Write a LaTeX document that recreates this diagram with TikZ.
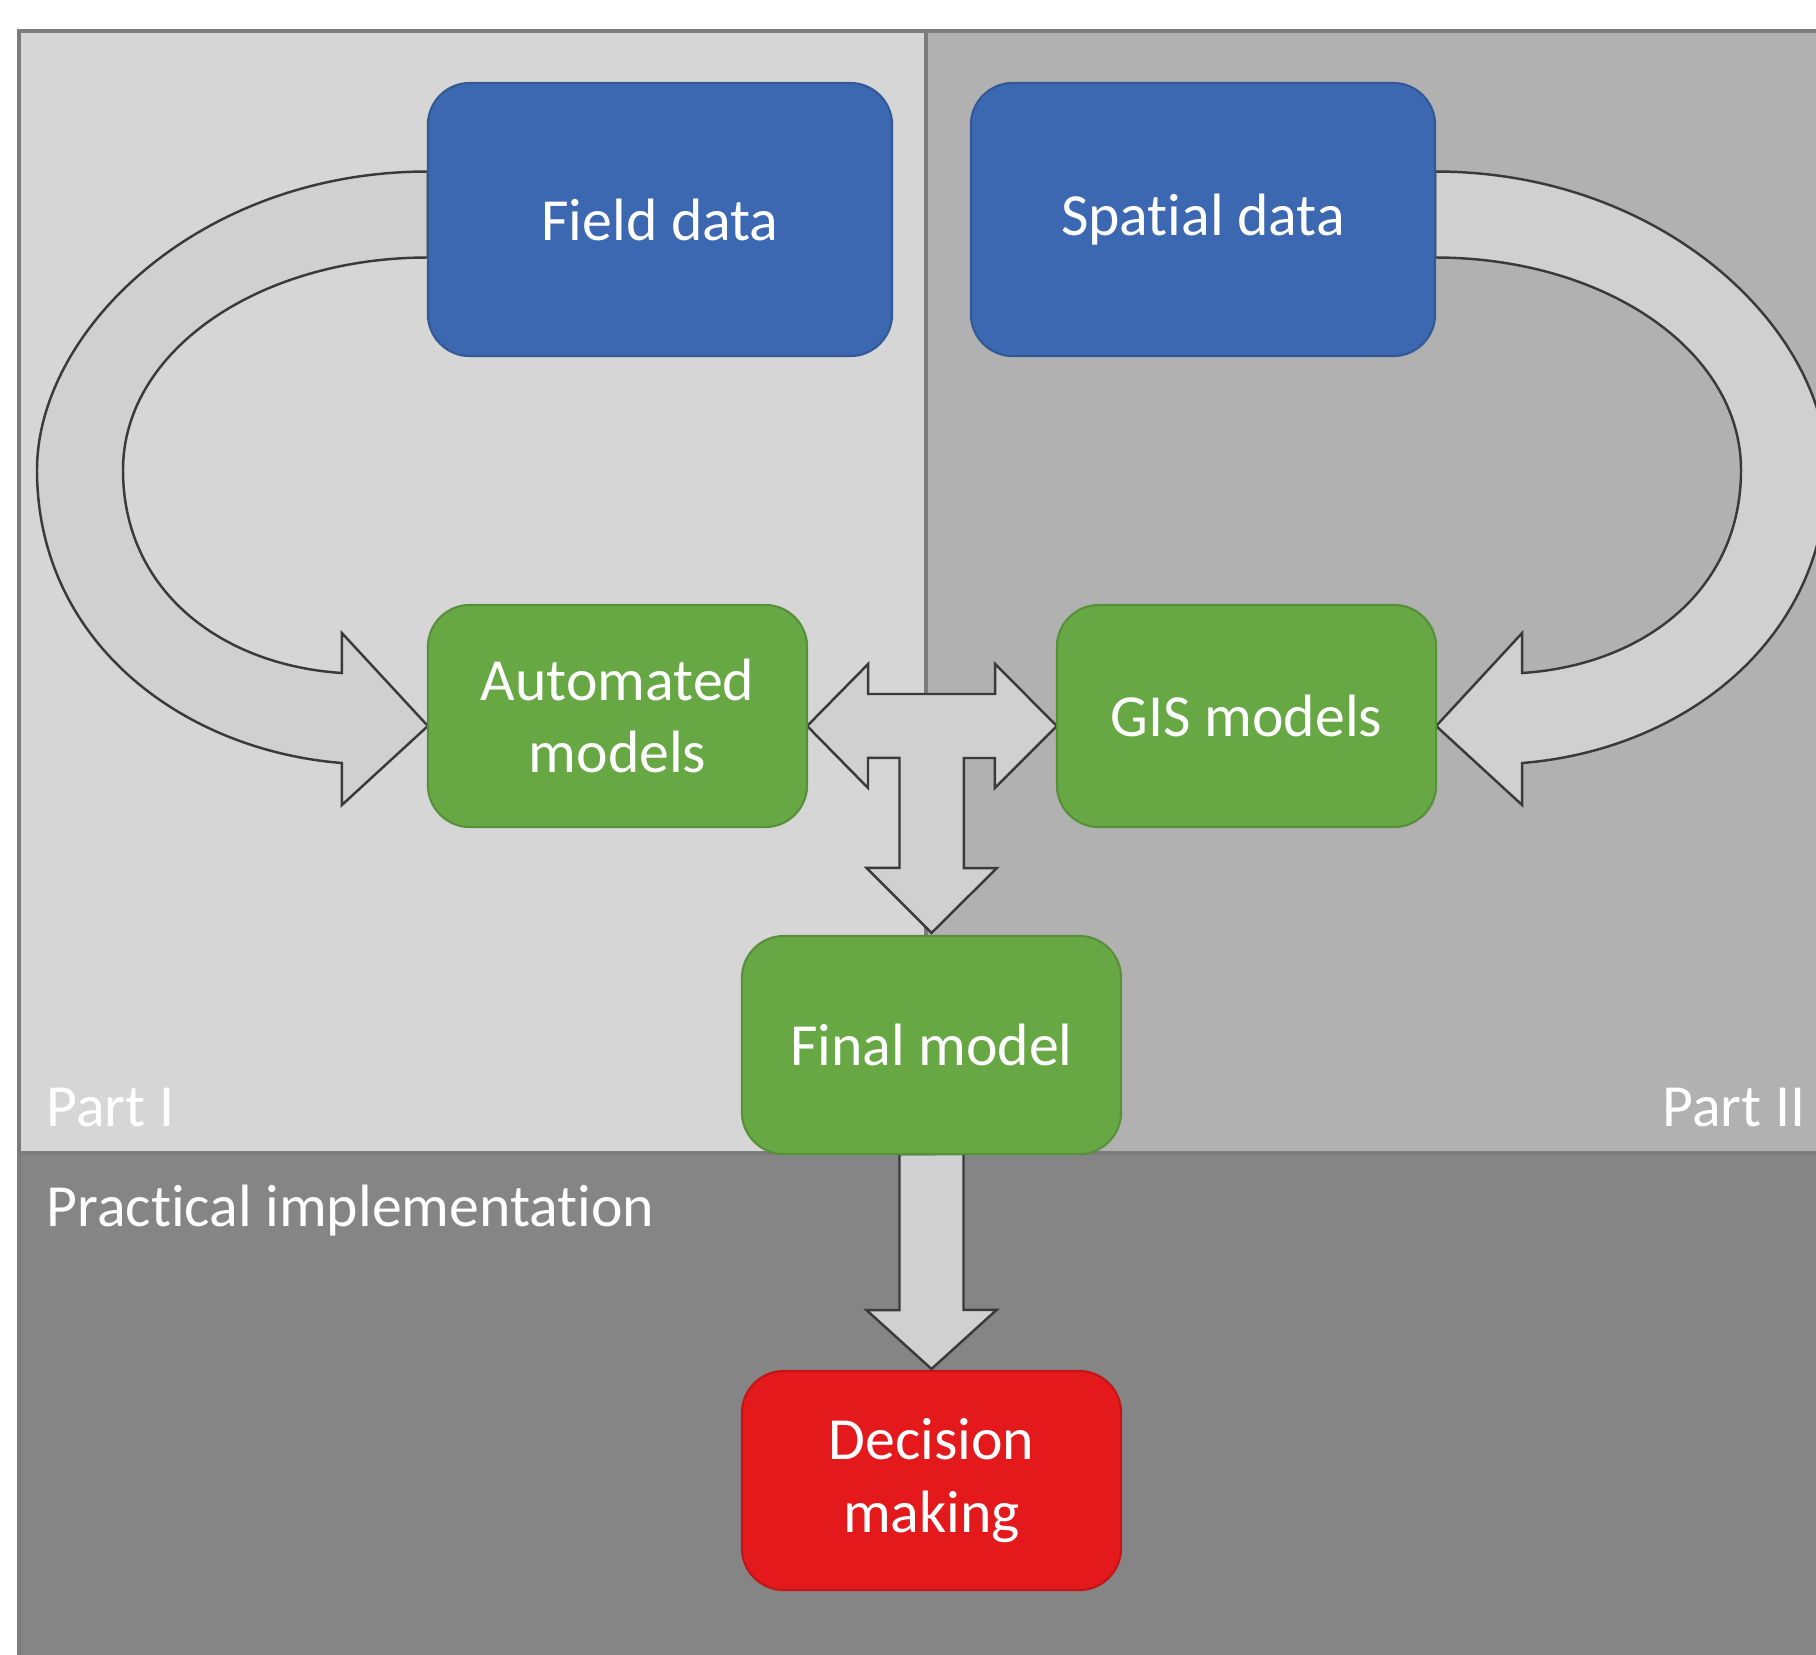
\documentclass[tikz,border=0pt]{standalone}
\usepackage{fontspec}
\setmainfont{Carlito}[Ligatures={NoCommon}]
\usepackage{tikz}
\usetikzlibrary{calc,backgrounds}

\definecolor{panelI}{HTML}{D6D6D6}
\definecolor{panelII}{HTML}{B1B1B1}
\definecolor{panelPI}{HTML}{858585}
\definecolor{framegray}{HTML}{7C7C7C}
\definecolor{databox}{HTML}{3C67B1}
\definecolor{modelbox}{HTML}{67A845}
\definecolor{decbox}{HTML}{E3191C}
\definecolor{arrowfill}{HTML}{D0D0D0}
\definecolor{arrowline}{HTML}{3A3A3A}

\tikzset{
  box/.style={rounded corners=0.42cm, outer sep=0pt, inner sep=0pt, align=center,
    text=white, font=\fontsize{17}{20.5}\selectfont, line width=0.6pt},
  datanode/.style={box, fill=databox, draw=databox!85!black, minimum width=4.64cm, minimum height=2.73cm},
  modelnode/.style={box, fill=modelbox, draw=modelbox!85!black, minimum width=3.79cm, minimum height=2.22cm},
  decnode/.style={box, fill=decbox, draw=decbox!85!black, minimum width=3.79cm, minimum height=2.19cm},
  blockarrow/.style={fill=arrowfill, draw=arrowline, line width=0.7pt, line join=miter},
  partlabel/.style={text=white, font=\fontsize{17}{20.5}\selectfont, inner sep=0pt},
}

\begin{document}
\begin{tikzpicture}[x=0.01cm, y=-0.01cm]
  \useasboundingbox (0,0) rectangle (1816,1654);

  \node[datanode] (field) at (660,219.5) {Field data};
  \node[datanode] (spatial) at (1203,219.5) {Spatial data};
  \node[modelnode] (auto) at (617.5,716) {Automated\\models};
  \node[modelnode] (gis) at (1246.5,716) {GIS models};
  \node[modelnode, minimum height=2.18cm] (final) at (931.5,1045) {Final model};
  \node[decnode] (decision) at (931.5,1480.5) {Decision\\making};

  \node[partlabel, anchor=base west] (partI) at (46,1126) {Part I};
  \node[partlabel, anchor=base east] (partII) at (1806,1126) {Part II};
  \node[partlabel, anchor=base west] (practical) at (46,1226) {Practical implementation};

  \coordinate (tl) at ($(auto.east)+(0,10)$);
  \coordinate (tr) at ($(gis.west)+(0,10)$);
  \coordinate (td) at ($(final.north)+(0,-3)$);

  \begin{scope}[on background layer]
    \clip (0,0) rectangle (1816,1654);
    \fill[white] (0,0) rectangle (1816,1654);
    \filldraw[fill=panelI, draw=framegray, line width=1pt] (19,31) rectangle (926,1153);
    \filldraw[fill=panelII, draw=framegray, line width=1pt] (926,31) rectangle (1840,1153);
    \filldraw[fill=panelPI, draw=framegray, line width=1pt] (19,1153) rectangle (1840,1680);

    \draw[blockarrow] ($(field.west)+(0,-48)$) .. controls (200,171.5) and (37,330) .. (37,470)
      .. controls (37,640) and (180,750) .. ($(auto.west)+(-86,47)$)
      -- ($(auto.west)+(-86,89)$) -- ($(auto.west)+(0,10)$) -- ($(auto.west)+(-86,-83)$)
      -- ($(auto.west)+(-86,-43)$) .. controls (220,665) and (123,590) .. (123,470)
      .. controls (123,350) and (260,257.5) .. ($(field.west)+(0,38)$) -- cycle;

    \draw[blockarrow] ($(spatial.east)+(0,-48)$) .. controls (1664,171.5) and (1827,330) .. (1827,470)
      .. controls (1827,640) and (1684,750) .. ($(gis.east)+(86,47)$)
      -- ($(gis.east)+(86,89)$) -- ($(gis.east)+(0,10)$) -- ($(gis.east)+(86,-83)$)
      -- ($(gis.east)+(86,-43)$) .. controls (1644,665) and (1741,590) .. (1741,470)
      .. controls (1741,350) and (1604,257.5) .. ($(spatial.east)+(0,38)$) -- cycle;

    \draw[blockarrow] (tl) -- ++(61,-62) -- ++(0,30) -- ++(127,0) -- ++(0,-30) -- (tr)
      -- ++(-62,62) -- ++(0,-30) -- ++(-31,0) -- ++(0,110) -- ++(33,0) -- (td)
      -- ++(-65,-65) -- ++(33,0) -- ++(0,-110) -- ++(-31.5,0) -- ++(0,30) -- cycle;

    \draw[blockarrow] ($(final.south)+(-32,0)$) -- ++(0,156) -- ++(-33,0)
      -- ($(decision.north)+(0,-2)$) -- ++(65,-59) -- ++(-33,0) -- ++(0,-156) -- cycle;
  \end{scope}
\end{tikzpicture}
\end{document}
